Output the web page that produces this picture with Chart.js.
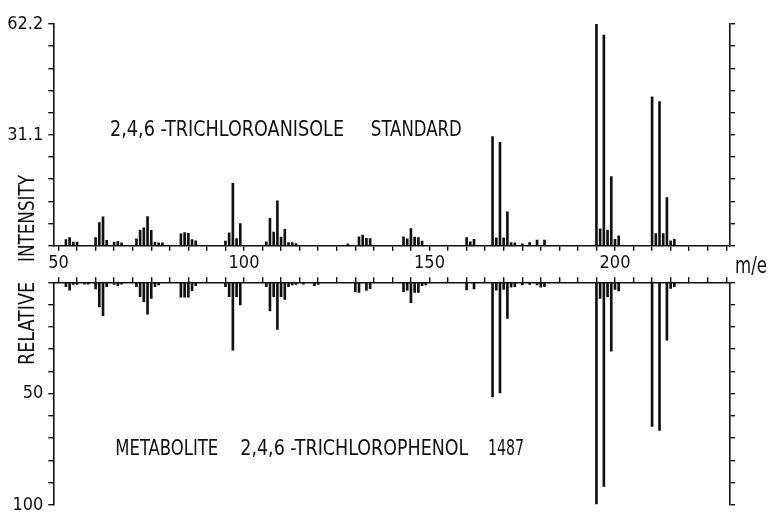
<!DOCTYPE html>
<html>
<head>
<meta charset="utf-8">
<script src="https://cdn.jsdelivr.net/npm/chart.js@4.4.1/dist/chart.umd.min.js"></script>
<style>
  html, body { margin: 0; padding: 0; background: #fff; overflow: hidden; }
  #wrap { position: relative; width: 769px; height: 512px; }
  #topChart { position: absolute; left: 0; top: 0; }
  #botChart { position: absolute; left: 0; top: 275px; }
</style>
</head>
<body>
<div id="wrap">
  <canvas id="topChart" width="769" height="275"></canvas>
  <canvas id="botChart" width="769" height="245"></canvas>
</div>
<script>
// 2,4,6-trichloroanisole standard (upper spectrum)
const stdMz  = [52, 53, 54, 55, 60, 61, 62, 63, 65, 66, 67, 71, 72, 73, 74, 75, 76, 77, 78,
                83, 84, 85, 86, 87, 95, 96, 97, 98, 99, 106, 107, 108, 109, 110, 111, 112, 113, 114,
                128, 131, 132, 133, 134, 143, 144, 145, 146, 147, 148, 160, 161, 162,
                167, 168, 169, 170, 171, 172, 173, 175, 177, 179, 181,
                195, 196, 197, 198, 199, 200, 201, 210, 211, 212, 213, 214, 215, 216];
const stdInt = [1.7, 2.3, 1.0, 1.0, 2.3, 6.5, 8.1, 1.5, 1.0, 1.2, 0.8, 1.9, 4.3, 5.0, 8.2, 4.3, 1.0, 0.8, 0.8,
                3.3, 3.7, 3.5, 1.7, 1.4, 1.3, 3.6, 17.5, 2.0, 6.2, 1.1, 7.7, 3.8, 12.6, 2.4, 4.6, 0.9, 0.9, 0.6,
                0.5, 2.5, 3.0, 2.1, 2.0, 2.5, 1.9, 4.8, 2.4, 2.3, 1.3, 2.3, 1.1, 1.8,
                30.6, 2.2, 29.0, 2.2, 9.5, 0.9, 0.8, 0.5, 0.9, 1.6, 1.6,
                62.2, 4.7, 59.1, 4.3, 19.4, 1.8, 2.8, 41.8, 3.4, 40.4, 3.4, 13.5, 1.4, 1.8];

// metabolite 2,4,6-trichlorophenol 1487 (lower spectrum)
const metMz  = [52, 53, 54, 55, 57, 58, 60, 61, 62, 63, 65, 66, 67, 71, 72, 73, 74, 75, 76, 77,
                83, 84, 85, 86, 87, 95, 96, 97, 98, 99, 106, 107, 108, 109, 110, 111, 112, 113, 114, 116, 119, 120,
                130, 131, 133, 134, 143, 144, 145, 146, 147, 148, 149, 160, 162,
                167, 168, 169, 170, 171, 172, 173, 175, 177, 179, 180, 181,
                195, 196, 197, 198, 199, 200, 201, 210, 212, 214, 215, 216];
const metInt = [2.0, 3.5, 1.0, 1.0, 0.8, 0.8, 3.0, 11.0, 15.0, 2.0, 1.0, 1.5, 0.8, 2.0, 6.5, 8.7, 14.3, 7.2, 2.0, 1.2,
                6.7, 6.7, 6.7, 3.8, 1.5, 2.0, 6.5, 30.5, 6.5, 10.2, 2.0, 12.9, 6.5, 21.2, 6.5, 7.7, 2.0, 1.2, 1.0, 0.8, 1.5, 1.0,
                4.2, 4.6, 3.7, 2.9, 4.2, 3.5, 9.2, 4.5, 4.5, 1.5, 1.2, 3.4, 3.0,
                51.5, 3.5, 49.7, 3.2, 16.2, 2.2, 2.0, 1.2, 0.9, 1.2, 2.2, 2.0,
                99.5, 7.2, 91.7, 6.5, 30.9, 3.2, 3.9, 64.7, 66.5, 26.0, 2.7, 2.0];

// axis ticks and labels
const xTicks   = [50, 55, 60, 65, 70, 75, 80, 85, 90, 95, 100, 105, 110, 115, 120, 125, 130, 135, 140,
                  145, 150, 155, 160, 165, 170, 175, 180, 185, 190, 195, 200, 205, 210, 215, 220, 225, 230];
const xLabels  = [50, 100, 150, 200];
const stdTicks = [0, 6.22, 12.44, 18.66, 24.88, 31.1, 37.32, 43.54, 49.76, 55.98, 62.2];
const stdLabels = ['31.1', '62.2'];
const metTicks = [0, 10, 20, 30, 40, 50, 60, 70, 80, 90, 100];
const metLabels = ['50', '100'];

const INK = '#111';
const FONT = "'DejaVu Sans Condensed', 'Liberation Sans Narrow', sans-serif";
const X_MIN = 48.6, X_MAX = 231;
const LEFT_W = 53.3, RIGHT_W = 39;

function fixSize(size) {
  return function (scale) {
    if (scale.isHorizontal()) scale.height = size; else scale.width = size;
    scale.paddingTop = scale.paddingBottom = scale.paddingLeft = scale.paddingRight = 0;
  };
}

function setTicks(values) {
  return function (scale) { scale.ticks = values.map(v => ({ value: v })); };
}

function xAxis(position, height, withLabels) {
  return {
    type: 'linear', min: X_MIN, max: X_MAX, position: position, offset: false,
    afterBuildTicks: setTicks(xTicks),
    afterFit: fixSize(height),
    border: { color: INK, width: 1.6 },
    grid: { offset: false, drawOnChartArea: false, drawTicks: true, tickLength: 5, color: INK, lineWidth: 1.4 },
    ticks: {
      autoSkip: false, maxRotation: 0, color: INK, padding: 2,
      font: { family: FONT, size: 18 },
      callback: v => (withLabels && xLabels.includes(v)) ? String(v) : ''
    }
  };
}

function yAxis(position, max, ticks, labels, reverse) {
  return {
    min: 0, max: max, position: position, reverse: reverse,
    afterBuildTicks: setTicks(ticks),
    afterFit: fixSize(position === 'left' ? LEFT_W : RIGHT_W),
    border: { color: INK, width: 1.6 },
    grid: { drawOnChartArea: false, drawTicks: true, tickLength: 5, color: INK, lineWidth: 1.4 },
    ticks: {
      autoSkip: false, color: INK, padding: 5, font: { family: FONT, size: 18 },
      callback: v => {
        if (position !== 'left') return '';
        const t = Number.isInteger(v) ? String(v) : v.toFixed(1);
        return labels.includes(t) ? t : '';
      }
    }
  };
}

// text written onto the plot, stretched to the width it has in the original
function textPlugin(items) {
  return {
    id: 'spectrumText',
    afterDraw(chart) {
      const ctx = chart.ctx;
      ctx.save();
      ctx.fillStyle = INK;
      items.forEach(it => {
        ctx.font = (it.size || 21) + 'px ' + FONT;
        let px, py;
        if (it.mz !== undefined) {
          px = chart.scales.x.getPixelForValue(it.mz);
          py = chart.scales.y.getPixelForValue(it.val);
        } else {
          px = it.px; py = it.py;
        }
        const sx = it.width ? it.width / ctx.measureText(it.text).width : 1;
        ctx.save();
        ctx.translate(px, py);
        if (it.rotate) ctx.rotate(-Math.PI / 2);
        ctx.scale(sx, 1);
        ctx.textAlign = it.align || 'left';
        ctx.textBaseline = it.baseline || 'middle';
        ctx.fillText(it.text, 0, 0);
        ctx.restore();
      });
      ctx.restore();
    }
  };
}

function bars(mz, vals) {
  return mz.map((m, i) => ({ x: m, y: vals[i] }));
}

const topChart = new Chart(document.getElementById('topChart'), {
  type: 'bar',
  data: {
    datasets: [{
      data: bars(stdMz, stdInt),
      backgroundColor: INK, borderWidth: 0, barThickness: 2
    }]
  },
  options: {
    responsive: false, animation: false,
    layout: { padding: { top: 24, bottom: 0, left: 0, right: 0 } },
    plugins: { legend: { display: false }, tooltip: { enabled: false } },
    scales: {
      x: xAxis('bottom', 275 - 245.7, true),
      y: yAxis('left', 62.2, stdTicks, stdLabels, false),
      yR: yAxis('right', 62.2, stdTicks, stdLabels, false)
    }
  },
  plugins: [textPlugin([
    { text: '2,4,6 -TRICHLOROANISOLE', mz: 63.9, val: 32.3, width: 234 },
    { text: 'STANDARD', mz: 134.2, val: 32.3, width: 91 },
    { text: 'INTENSITY', px: 29, py: 218.5, rotate: true, align: 'center', width: 87 },
    { text: 'm/e', px: 735, py: 273, baseline: 'alphabetic', size: 23, width: 32 }
  ])]
});

const botChart = new Chart(document.getElementById('botChart'), {
  type: 'bar',
  data: {
    datasets: [{
      data: bars(metMz, metInt),
      backgroundColor: INK, borderWidth: 0, barThickness: 2
    }]
  },
  options: {
    responsive: false, animation: false,
    layout: { padding: { top: 0, bottom: 15, left: 0, right: 0 } },
    plugins: { legend: { display: false }, tooltip: { enabled: false } },
    scales: {
      x: xAxis('top', 282.3 - 275, false),
      y: yAxis('left', 100, metTicks, metLabels, true),
      yR: yAxis('right', 100, metTicks, metLabels, true)
    }
  },
  plugins: [textPlugin([
    { text: 'METABOLITE', mz: 65.3, val: 75, width: 103 },
    { text: '2,4,6 -TRICHLOROPHENOL', mz: 99.0, val: 75, width: 228 },
    { text: '1487', mz: 165.8, val: 75, width: 36 },
    { text: 'RELATIVE', px: 29, py: 323.5 - 275, rotate: true, align: 'center', width: 83 }
  ])]
});
</script>
</body>
</html>
